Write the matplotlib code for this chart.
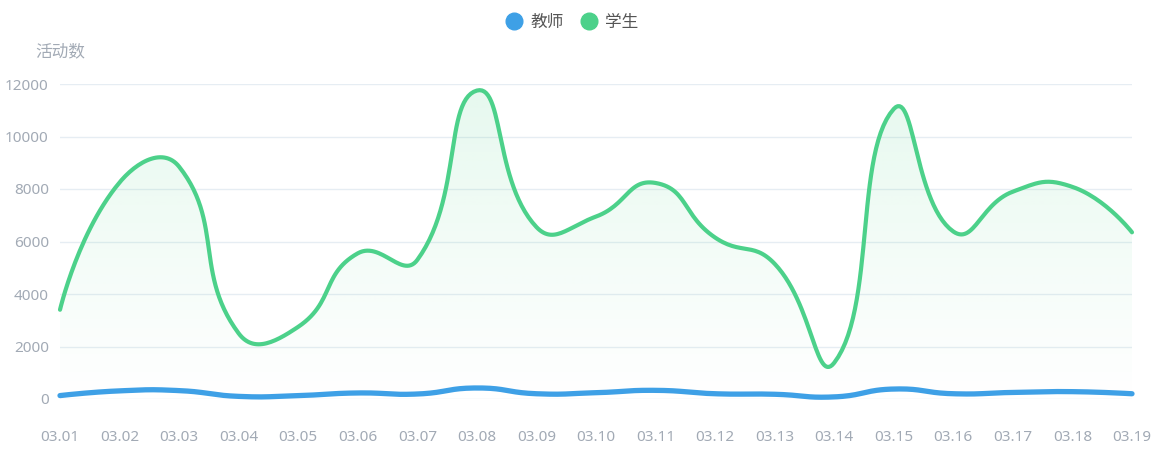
import numpy as np
import matplotlib
matplotlib.use('Agg')
import matplotlib.pyplot as plt
from matplotlib import font_manager
from matplotlib.lines import Line2D
from matplotlib.patches import Polygon

dates = ['03.01', '03.02', '03.03', '03.04', '03.05', '03.06', '03.07', '03.08', '03.09', '03.10',
         '03.11', '03.12', '03.13', '03.14', '03.15', '03.16', '03.17', '03.18', '03.19']
teacher = [130, 310, 320, 100, 130, 230, 190, 420, 200, 240,
           330, 200, 180, 80, 380, 200, 250, 280, 200]
student = [3400, 8250, 8850, 2500, 2750, 5550, 5300, 11750, 6550, 6950,
           8230, 6150, 5150, 1380, 11050, 6380, 7900, 8080, 6350]
yticks = [0, 2000, 4000, 6000, 8000, 10000, 12000]

GREEN = '#4cd18a'
BLUE = '#3ea0e6'
LABEL = '#a2aab5'
GRID = '#e6edf3'


def has_font(name):
    try:
        font_manager.findfont(font_manager.FontProperties(family=name), fallback_to_default=False)
        return True
    except Exception:
        return False


if has_font('Liberation Sans Narrow'):
    num_font, num_size = 'Liberation Sans Narrow', 13
else:
    num_font, num_size = 'Noto Sans', 11
cjk = ['Noto Sans CJK SC', 'DejaVu Sans']


def smooth_curve(ax, xs, ys, smooth=0.5, steps=30):
    # echarts-style bezier smoothing, done in pixel space
    pts = ax.transData.transform(np.column_stack([xs, ys]))
    n = len(pts)
    before, after = [], []
    for i in range(n):
        p = pts[i]
        if i == 0 or i == n - 1:
            before.append(p)
            after.append(p)
            continue
        v = (pts[i + 1] - pts[i - 1]) * smooth
        d0 = np.hypot(*(p - pts[i - 1]))
        d1 = np.hypot(*(p - pts[i + 1]))
        s = d0 + d1
        before.append(p - v * d0 / s)
        after.append(p + v * d1 / s)
    t = np.linspace(0, 1, steps)[:, None]
    out = [pts[:1]]
    for i in range(n - 1):
        p0, c1, c2, p3 = pts[i], after[i], before[i + 1], pts[i + 1]
        seg = (1 - t) ** 3 * p0 + 3 * (1 - t) ** 2 * t * c1 + 3 * (1 - t) * t ** 2 * c2 + t ** 3 * p3
        out.append(seg[1:])
    out = np.vstack(out)
    data = ax.transData.inverted().transform(out)
    return data[:, 0], data[:, 1]


fig = plt.figure(figsize=(11.61, 4.5), dpi=100)
ax = fig.add_axes([60 / 1161, 51 / 450, 1072 / 1161, 315 / 450])
x = np.arange(len(dates))
ax.set_xlim(0, len(dates) - 1)
ax.set_ylim(0, 12000)

for s in ax.spines.values():
    s.set_visible(False)
ax.set_yticks(yticks)
ax.set_yticklabels([str(v) for v in yticks])
ax.set_xticks(x)
ax.set_xticklabels(dates)
ax.tick_params(axis='both', length=0, colors=LABEL, labelsize=num_size)
ax.tick_params(axis='y', pad=8)
ax.tick_params(axis='x', pad=22)
for lab in ax.get_xticklabels() + ax.get_yticklabels():
    lab.set_family(num_font)
ax.grid(axis='y', color=GRID, linewidth=1)
ax.set_axisbelow(True)

sx, sy = smooth_curve(ax, x, student)
tx, ty = smooth_curve(ax, x, teacher)

# gradient area under the student curve, stronger at the top
grad = np.zeros((256, 2, 4))
grad[:, :, :3] = matplotlib.colors.to_rgb(GREEN)
grad[:, :, 3] = np.linspace(0.0, 0.14, 256)[:, None]
im = ax.imshow(grad, extent=[0, len(dates) - 1, 0, 12000], aspect='auto', zorder=1,
               origin='lower', interpolation='bilinear')
poly = Polygon(np.column_stack([np.r_[sx, sx[-1], sx[0]], np.r_[sy, 0, 0]]),
               closed=True, transform=ax.transData, facecolor='none', edgecolor='none')
ax.add_patch(poly)
im.set_clip_path(poly)

ax.plot(tx, ty, color=BLUE, linewidth=3.8, solid_capstyle='round', zorder=3, clip_on=False)
ax.plot(sx, sy, color=GREEN, linewidth=3.0, solid_capstyle='round', zorder=4, clip_on=False)
ax.set_xlim(0, len(dates) - 1)
ax.set_ylim(0, 12000)

fig.text(60 / 1161, 1 - 52 / 450, '活动数', ha='center', va='center', color=LABEL,
         fontsize=12, family=cjk)

handles = [Line2D([], [], linestyle='none', marker='o', markersize=12, color=BLUE, label='教师'),
           Line2D([], [], linestyle='none', marker='o', markersize=12, color=GREEN, label='学生')]
leg = fig.legend(handles=handles, loc='center', bbox_to_anchor=(572 / 1161, 1 - 22 / 450), ncol=2,
                 frameon=False, handletextpad=0.5, columnspacing=1.0, handlelength=1.0,
                 prop={'family': cjk, 'size': 12})
for t in leg.get_texts():
    t.set_color('#555555')

fig.savefig('out.png', dpi=100)
